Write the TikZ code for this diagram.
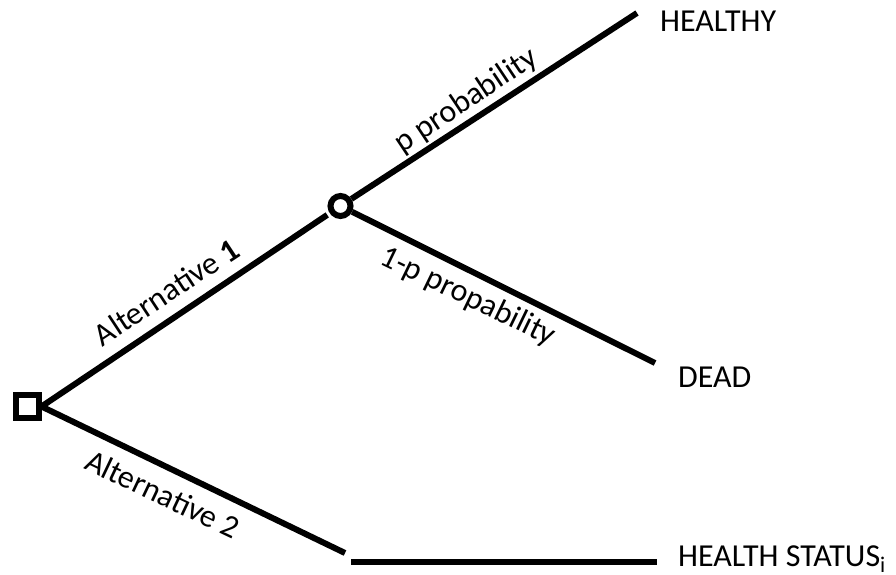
\documentclass[tikz,border=0pt]{standalone}
\usepackage{fontspec}
\setmainfont{Carlito}
\begin{document}
\begin{tikzpicture}[x=1pt,y=-1pt,
  branch/.style={line width=6pt},
  decision/.style={draw,rectangle,line width=6pt,minimum size=23pt,inner sep=0pt},
  chancenode/.style={draw,circle,line width=6pt,minimum size=20pt,inner sep=0pt},
  outcome/.style={anchor=base west,inner sep=0pt,font=\fontsize{32}{38}\selectfont},
  edgelabel/.style={inner sep=0pt,font=\fontsize{32}{38}\selectfont}]
  \useasboundingbox (0,0) rectangle (896,575);

  % decision and chance nodes
  \node[decision] (dec) at (27,406.5) {};
  \node[chancenode] (chance) at (340.5,206) {};

  % free ends of the branches
  \coordinate (healthyEnd) at (637,13);
  \coordinate (deadEnd) at (655,363);
  \coordinate (altTwoEnd) at (345,553);
  \coordinate (statusStart) at (351,562);
  \coordinate (statusEnd) at (657,562);

  % branches
  \draw[branch,shorten >=3pt] (dec.east) -- (chance);
  \draw[branch] (chance) -- (healthyEnd);
  \draw[branch] (chance) -- (deadEnd);
  \draw[branch] (dec.east) -- (altTwoEnd);
  \draw[branch] (statusStart) -- (statusEnd);

  % outcomes
  \node[outcome] (healthy) at (660,32) {HEALTHY};
  \node[outcome] (dead) at (678,387) {DEAD};
  \node[outcome] (status) at (678,566) {HEALTH STATUS\textsubscript{i}};

  % branch labels
  \node[edgelabel,rotate=33.4] (altOne) at (166,292) {Alternative \textbf{1}};
  \node[edgelabel,rotate=33.7] (pLab) at (466,101) {p probability};
  \node[edgelabel,rotate=-25.8] (qLab) at (468,297) {1-p propability};
  \node[edgelabel,rotate=-25.4] (altTwo) at (163,494) {Alternative 2};
\end{tikzpicture}
\end{document}
